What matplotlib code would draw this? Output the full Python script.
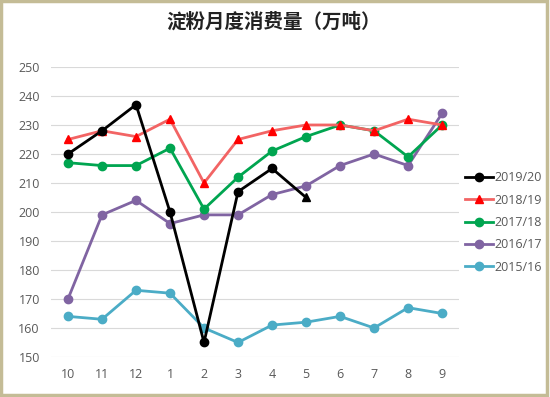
import numpy as np
import matplotlib
matplotlib.use('Agg')
import matplotlib.pyplot as plt
from matplotlib.patches import Rectangle

plt.rcParams['font.family'] = ['Noto Sans CJK SC', 'DejaVu Sans']

# dados
meses = ['10', '11', '12', '1', '2', '3', '4', '5', '6', '7', '8', '9']
s2019 = [220, 228, 237, 200, 155, 207, 215, 205]
s2018 = [225, 228, 226, 232, 210, 225, 228, 230, 230, 228, 232, 230]
s2017 = [217, 216, 216, 222, 201, 212, 221, 226, 230, 228, 219, 230]
s2016 = [170, 199, 204, 196, 199, 199, 206, 209, 216, 220, 216, 234]
s2015 = [164, 163, 173, 172, 160, 155, 161, 162, 164, 160, 167, 165]

fig = plt.figure(figsize=(5.5, 3.97), dpi=100)
ax = fig.add_axes([0.0927, 0.1008, 0.742, 0.7305])

x = np.arange(len(meses))
lw = 2.0
ms = 6

# 2019/20: o último ponto aparece como triângulo
ax.plot(x[:len(s2019) - 1], s2019[:-1], color='black', lw=lw, marker='o', ms=ms,
        label='2019/20', zorder=6)
ax.plot(x[len(s2019) - 2:len(s2019)], s2019[-2:], color='black', lw=lw, zorder=6)
ax.plot(x[len(s2019) - 1], s2019[-1], color='black', marker='^', ms=ms, zorder=6)
ax.plot(x, s2018, color='#f26464', lw=lw, marker='^', ms=ms, mfc='#ff0000',
        mec='#ff0000', label='2018/19', zorder=5)
ax.plot(x, s2017, color='#00a550', lw=lw, marker='o', ms=ms, label='2017/18', zorder=4)
ax.plot(x, s2016, color='#8064a2', lw=lw, marker='o', ms=ms, label='2016/17', zorder=3)
ax.plot(x, s2015, color='#4bacc6', lw=lw, marker='o', ms=ms, label='2015/16', zorder=2)

ax.set_xlim(-0.5, 11.5)
ax.set_ylim(150, 250)
ax.set_yticks(range(150, 251, 10))
ax.set_xticks(x)
ax.set_xticklabels(meses)
ax.grid(axis='y', color='#d9d9d9', lw=0.8)
ax.set_axisbelow(True)
for s in ax.spines.values():
    s.set_visible(False)
ax.tick_params(length=0, labelsize=9, labelcolor='#595959', pad=8)
for t in ax.get_xticklabels() + ax.get_yticklabels():
    t.set_family(['Open Sans', 'DejaVu Sans'])

leg = fig.legend(loc='upper left', bbox_to_anchor=(0.825, 0.597), frameon=False,
                 fontsize=9, handlelength=2.2, handletextpad=0.15, labelspacing=0.75,
                 labelcolor='#595959')
for t in leg.get_texts():
    t.set_family(['Open Sans', 'DejaVu Sans'])

fig.text(0.497, 0.945, '淀粉月度消费量（万吨）', ha='center', va='center',
         fontsize=14, fontweight='bold', color='#222222')

fig.patches.append(Rectangle((0.002, 0.005), 0.993, 0.992, transform=fig.transFigure,
                             fill=False, edgecolor='#c4bc96', lw=2.5))

fig.savefig('out.png', dpi=100)
